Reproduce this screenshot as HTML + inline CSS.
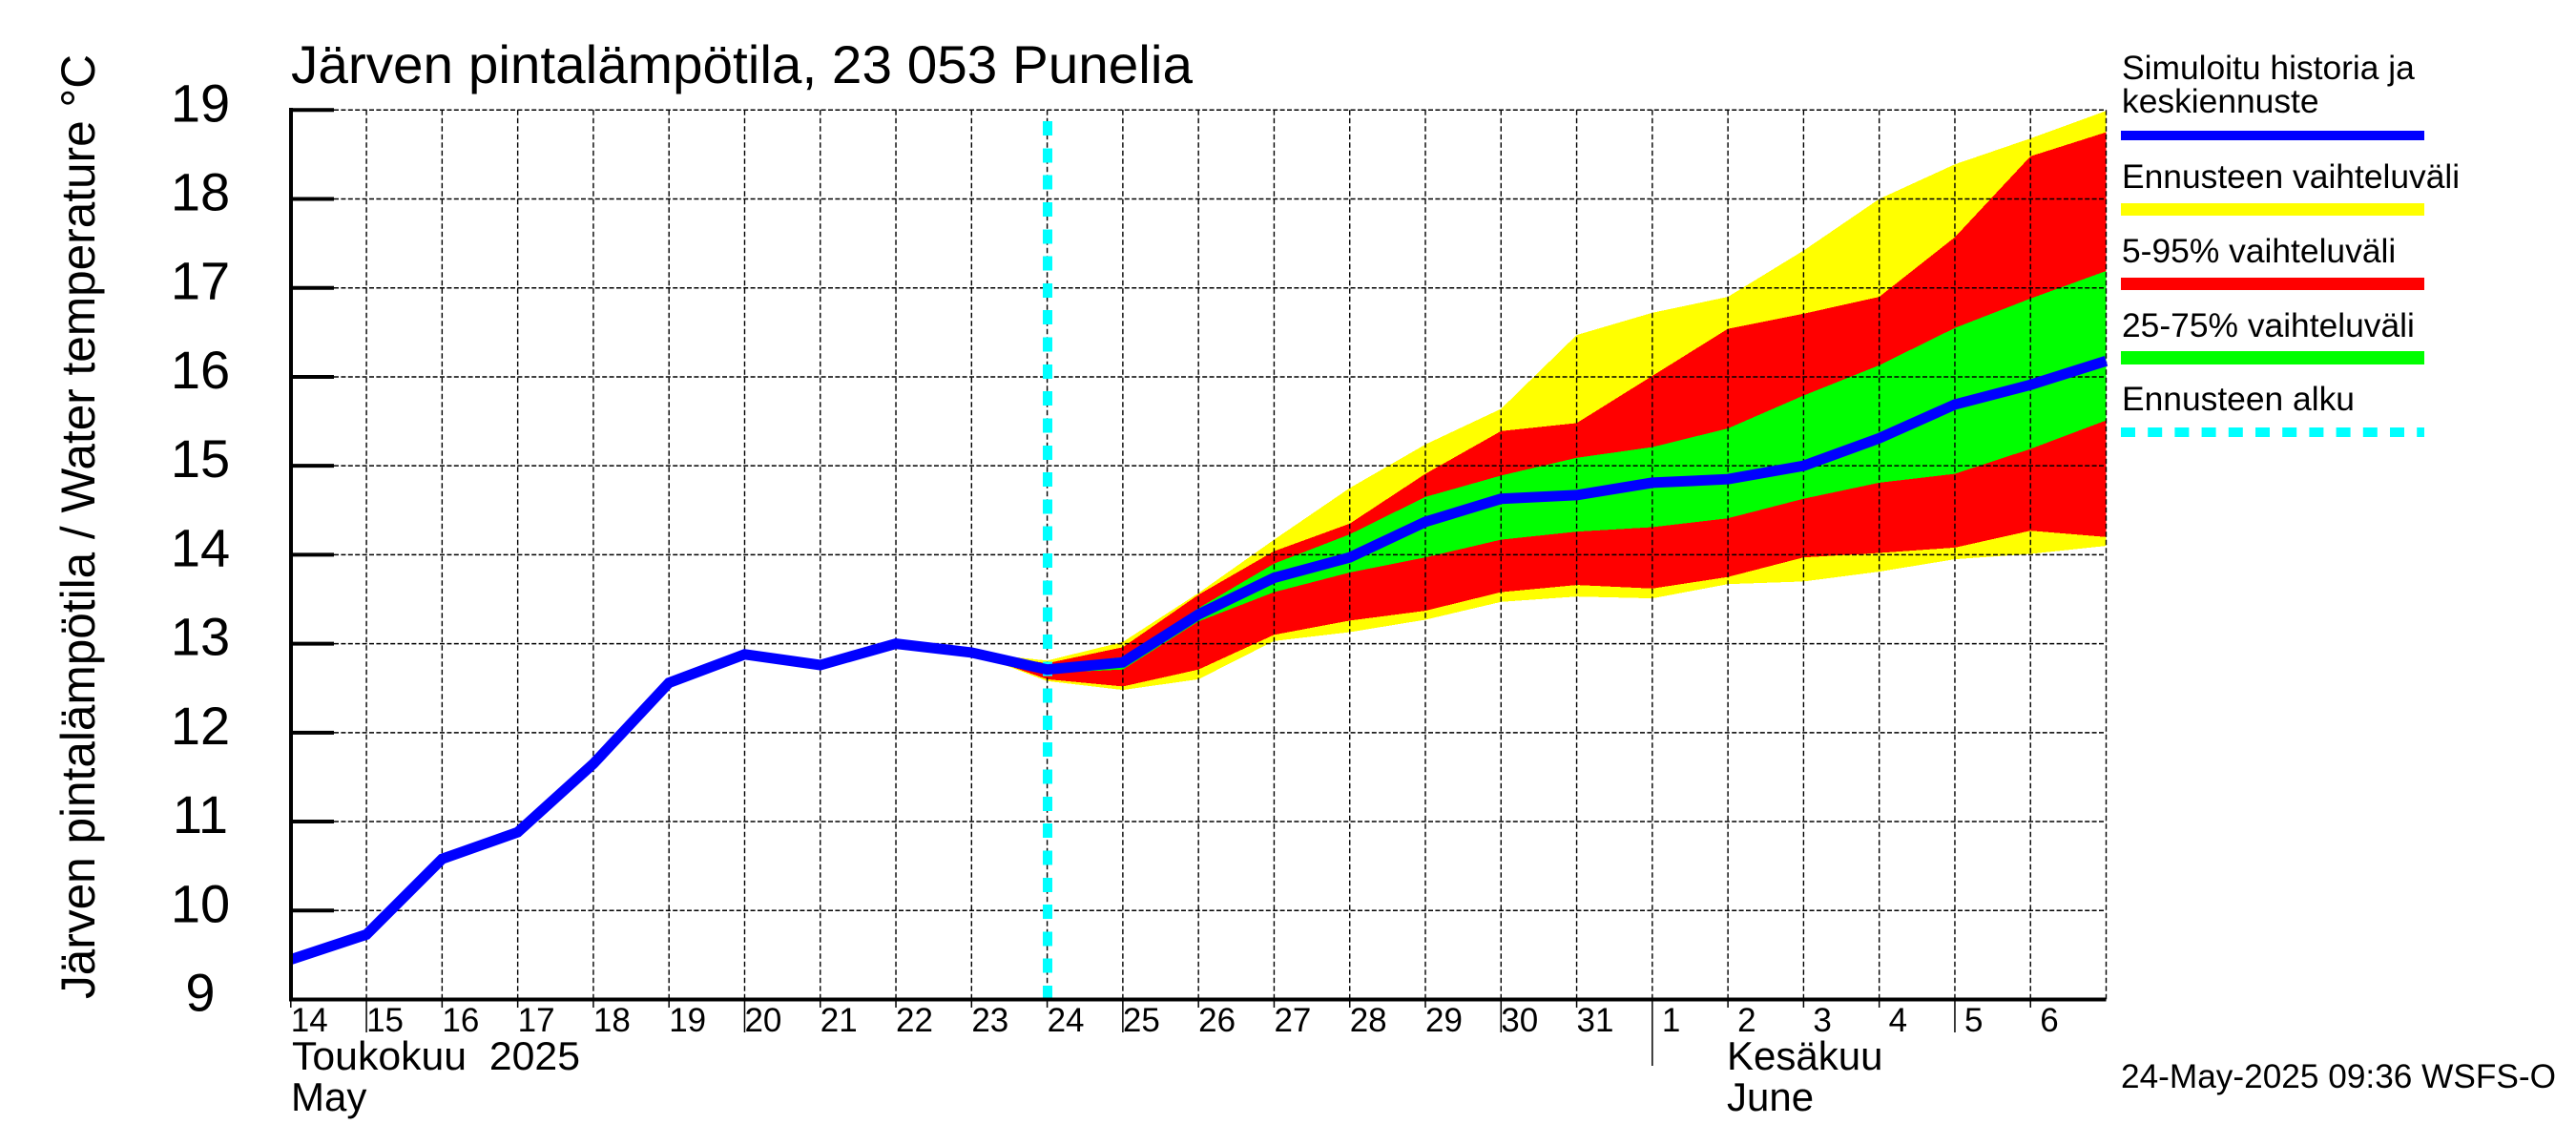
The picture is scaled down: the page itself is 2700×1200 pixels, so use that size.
<!DOCTYPE html>
<html lang="fi">
<head>
<meta charset="utf-8">
<title>Järven pintalämpötila, 23 053 Punelia</title>
<style>
html,body{margin:0;padding:0;background:#fff;}
svg{display:block;font-family:"Liberation Sans",Arial,sans-serif;fill:#000;}
</style>
</head>
<body>
<svg id="chart" xmlns="http://www.w3.org/2000/svg" width="2700" height="1200" viewBox="0 0 2700 1200">
  <rect x="0" y="0" width="2700" height="1200" fill="#fff"/>
  <g id="bands"></g>
  <g id="grid"></g>
  <g id="start"></g>
  <g id="series"></g>
  <g id="axes"></g>
  <g id="ylabels" font-size="56" text-anchor="middle"></g>
  <g id="xlabels" font-size="35"></g>

  <text x="305" y="87" font-size="56" textLength="945" lengthAdjust="spacingAndGlyphs">Järven pintalämpötila, 23 053 Punelia</text>
  <text transform="translate(99 1047) rotate(-90)" font-size="50" textLength="990" lengthAdjust="spacingAndGlyphs">Järven pintalämpötila / Water temperature °C</text>

  <text x="306" y="1121" font-size="42" xml:space="preserve" textLength="302" lengthAdjust="spacingAndGlyphs">Toukokuu  2025</text>
  <text x="305" y="1164" font-size="42">May</text>
  <text x="1810" y="1121" font-size="42">Kesäkuu</text>
  <text x="1810" y="1164" font-size="42">June</text>
  <text x="2223" y="1140" font-size="35" textLength="456" lengthAdjust="spacingAndGlyphs">24-May-2025 09:36 WSFS-O</text>

  <g font-size="35.4">
    <text x="2224" y="83">Simuloitu historia ja</text>
    <text x="2224" y="118">keskiennuste</text>
    <rect x="2223" y="137" width="318" height="10" fill="#0000ff"/>
    <text x="2224" y="197">Ennusteen vaihteluväli</text>
    <rect x="2223" y="213" width="318" height="13" fill="#ffff00"/>
    <text x="2224" y="275">5-95% vaihteluväli</text>
    <rect x="2223" y="291" width="318" height="13" fill="#ff0000"/>
    <text x="2224" y="353">25-75% vaihteluväli</text>
    <rect x="2223" y="368" width="318" height="14" fill="#00ff00"/>
    <text x="2224" y="430">Ennusteen alku</text>
    <line x1="2223" y1="453" x2="2541" y2="453" stroke="#00ffff" stroke-width="10" stroke-dasharray="15 13.2"/>
  </g>
</svg>
<script>
// Chart data (°C)
const dayLabels = ['14','15','16','17','18','19','20','21','22','23','24','25','26','27','28','29','30','31','1','2','3','4','5','6'];
const yTicks = [9,10,11,12,13,14,15,16,17,18,19];
const simulated = [9.45,9.73,10.58,10.88,11.65,12.56,12.88,12.76,13.0,12.9,12.71,12.79,13.33,13.74,13.97,14.37,14.63,14.67,14.81,14.85,15.0,15.31,15.69,15.91,16.18];
// Band series start at day index 9 (23 May)
const bandStartIndex = 9;
const forecastStartIndex = 10;
const yellowUpper = [12.9,12.81,13.02,13.57,14.17,14.75,15.24,15.64,16.47,16.72,16.90,17.42,18.0,18.39,18.68,18.99];
const redUpper    = [12.9,12.78,12.96,13.55,14.04,14.35,14.91,15.39,15.48,16.01,16.54,16.71,16.90,17.57,18.48,18.75];
const greenUpper  = [12.9,12.76,12.85,13.40,13.90,14.23,14.65,14.89,15.09,15.21,15.42,15.79,16.13,16.55,16.88,17.19];
const greenLower  = [12.9,12.67,12.71,13.25,13.58,13.80,13.97,14.17,14.26,14.31,14.41,14.63,14.81,14.91,15.19,15.51];
const redLower    = [12.9,12.60,12.52,12.71,13.10,13.26,13.37,13.58,13.66,13.62,13.75,13.97,14.02,14.08,14.27,14.20];
const yellowLower = [12.9,12.58,12.48,12.60,13.03,13.13,13.27,13.47,13.53,13.51,13.67,13.70,13.81,13.95,14.01,14.10];

const SVG_NS = 'http://www.w3.org/2000/svg';
const plotLeft = 304.8, dayWidth = 79.28, plotTop = 115.3, degHeight = 93.22, yMax = 19;
const plotRight = plotLeft + dayWidth * dayLabels.length;
const plotBottom = plotTop + degHeight * (yMax - yTicks[0]);
function x(i){ return plotLeft + dayWidth * i; }
function y(v){ return plotTop + (yMax - v) * degHeight; }
function make(tag, parent){
  const el = document.createElementNS(SVG_NS, tag);
  document.getElementById(parent).appendChild(el);
  return el;
}
function bandPoints(upper, lower){
  const top = upper.map((v, i) => x(i + bandStartIndex).toFixed(1) + ',' + y(v).toFixed(1));
  const bottom = lower.map((v, i) => x(i + bandStartIndex).toFixed(1) + ',' + y(v).toFixed(1)).reverse();
  return top.concat(bottom).join(' ');
}

// Bands
const yellowBand = make('polygon', 'bands');


yellowBand.setAttribute('points', bandPoints(yellowUpper, yellowLower));
yellowBand.setAttribute('fill', '#ffff00');
yellowBand.setAttribute('shape-rendering', 'crispEdges');
const redBand = make('polygon', 'bands');


redBand.setAttribute('points', bandPoints(redUpper, redLower));
redBand.setAttribute('fill', '#ff0000');
redBand.setAttribute('shape-rendering', 'crispEdges');
const greenBand = make('polygon', 'bands');


greenBand.setAttribute('points', bandPoints(greenUpper, greenLower));
greenBand.setAttribute('fill', '#00ff00');
greenBand.setAttribute('shape-rendering', 'crispEdges');

// Grid
yTicks.slice(1).forEach(function(v){
  const g = make('line', 'grid');
  
  
  g.setAttribute('x1', 350);
  g.setAttribute('x2', plotRight);
  g.setAttribute('y1', y(v));
  g.setAttribute('y2', y(v));
  g.setAttribute('stroke', '#000');
  g.setAttribute('stroke-width', 1.5);
  g.setAttribute('stroke-dasharray', '5 2.4');
});
for (let i = 1; i <= dayLabels.length; i++) {
  const g = make('line', 'grid');
  
  
  g.setAttribute('x1', x(i));
  g.setAttribute('x2', x(i));
  g.setAttribute('y1', plotTop);
  g.setAttribute('y2', plotBottom);
  g.setAttribute('stroke', '#000');
  g.setAttribute('stroke-width', 1.4);
  g.setAttribute('stroke-dasharray', '5.5 3');
}

// Forecast start marker
const startLine = make('line', 'start');


startLine.setAttribute('x1', 1098);
startLine.setAttribute('x2', 1098);
startLine.setAttribute('y1', 1048);
startLine.setAttribute('y2', 127);
startLine.setAttribute('stroke', '#00ffff');
startLine.setAttribute('stroke-width', 10);
startLine.setAttribute('stroke-dasharray', '15 13.31');
startLine.setAttribute('shape-rendering', 'crispEdges');

// Simulated / median line
const simLine = make('polyline', 'series');


simLine.setAttribute('points', simulated.map((v, i) => x(i).toFixed(1) + ',' + y(v).toFixed(1)).join(' '));
simLine.setAttribute('fill', 'none');
simLine.setAttribute('stroke', '#0000ff');
simLine.setAttribute('stroke-width', 11);
simLine.setAttribute('stroke-linejoin', 'miter');

// Axes
const yAxis = make('line', 'axes');


yAxis.setAttribute('x1', 305);
yAxis.setAttribute('x2', 305);
yAxis.setAttribute('y1', 113);
yAxis.setAttribute('y2', 1049.5);
yAxis.setAttribute('stroke', '#000');
yAxis.setAttribute('stroke-width', 4);
const xAxis = make('line', 'axes');


xAxis.setAttribute('x1', 303);
xAxis.setAttribute('x2', plotRight);
xAxis.setAttribute('y1', 1047.5);
xAxis.setAttribute('y2', 1047.5);
xAxis.setAttribute('stroke', '#000');
xAxis.setAttribute('stroke-width', 4);
yTicks.slice(1).forEach(function(v){
  const t = make('line', 'axes');
  
  
  t.setAttribute('x1', 303);
  t.setAttribute('x2', 350);
  t.setAttribute('y1', y(v));
  t.setAttribute('y2', y(v));
  t.setAttribute('stroke', '#000');
  t.setAttribute('stroke-width', 4);
});
yTicks.forEach(function(v){
  const t = make('text', 'ylabels');
  
  
  t.setAttribute('x', 210);
  t.setAttribute('y', y(v) + 12);
  t.textContent = v;
});
dayLabels.forEach(function(label, i){
  const tick = make('line', 'axes');
  
  
  tick.setAttribute('x1', x(i));
  tick.setAttribute('x2', x(i));
  tick.setAttribute('y1', 1048);
  tick.setAttribute('y2', label === '1' ? 1117 : (Number(label) % 5 === 0 ? 1082 : 1056));
  tick.setAttribute('stroke', '#000');
  tick.setAttribute('stroke-width', 1.5);
  const t = make('text', 'xlabels');
  
  
  t.setAttribute('x', x(i) + (label.length === 1 ? 10 : 0));
  t.setAttribute('y', 1081);
  t.textContent = label;
});
</script>
</body>
</html>
